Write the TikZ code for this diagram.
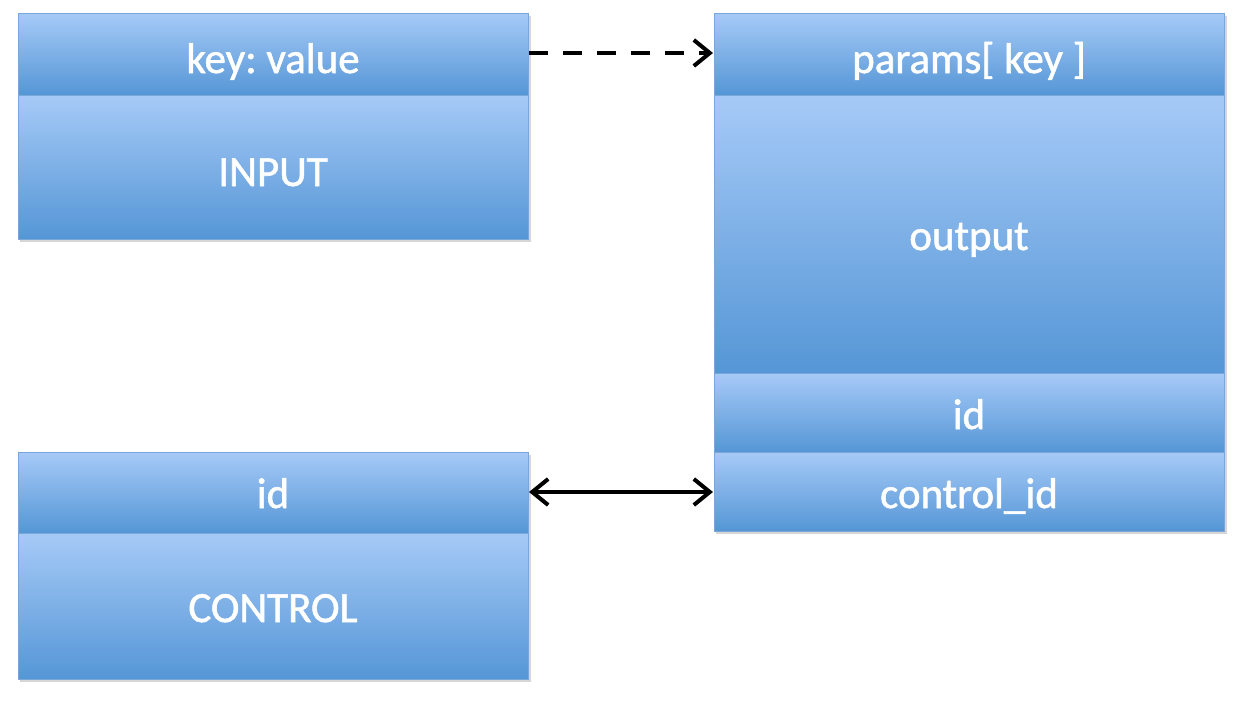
\documentclass[tikz,border=0pt]{standalone}
\usepackage{fontspec}
\setmainfont{Carlito}
\newfontfamily\boxfont[FakeBold=1.3]{Carlito}
\usetikzlibrary{arrows.meta}
\definecolor{boxtop}{HTML}{A6CAF7}
\definecolor{boxbot}{HTML}{5596D6}
\definecolor{boxline}{HTML}{7AA6DA}
\tikzset{
  sect/.style={draw=boxline, line width=1pt, top color=boxtop, bottom color=boxbot},
  lbl/.style={text=white, font=\boxfont\frenchspacing\fontsize{43}{50}\selectfont, inner sep=0pt, anchor=base},
  shad/.style={fill=black, fill opacity=0.16, draw=none},
  conn/.style={line width=4pt, black}
}
\begin{document}
\begin{tikzpicture}[x=1pt,y=-1pt]
\useasboundingbox (0,0) rectangle (1240,702);
% shadows
\fill[shad] (20,16) rectangle (531,242);
\fill[shad] (716,16) rectangle (1227,534);
\fill[shad] (20,455) rectangle (531,682);
% INPUT table
\path[sect] (18,13) rectangle (528,95);
\path[sect] (18,95) rectangle (528,239);
\node[lbl] (kv) at (273,73) {key: value};
\node[lbl] (inp) at (273,186) {INPUT};
\coordinate (kvE) at (529,53);
% output table
\path[sect] (714,13) rectangle (1224,95);
\path[sect] (714,95) rectangle (1224,373);
\path[sect] (714,373) rectangle (1224,452);
\path[sect] (714,452) rectangle (1224,531);
\node[lbl] (pk) at (969,73) {params[ key ]};
\node[lbl] (out) at (969,250) {output};
\node[lbl] (oid) at (969,429) {id};
\node[lbl] (cid) at (969,508) {control\_id};
\coordinate (pkW) at (713,53);
\coordinate (cidW) at (713,492);
% CONTROL table
\path[sect] (18,452) rectangle (528,533);
\path[sect] (18,533) rectangle (528,679);
\node[lbl] (cidl) at (273,508) {id};
\node[lbl] (ctl) at (273,622) {CONTROL};
\coordinate (idE) at (529,492);
% connectors
\draw[conn, dash pattern=on 19pt off 15pt, -{Straight Barb[length=16pt, width=26pt, line width=4pt]}] (kvE) -- (pkW);
\draw[conn, {Straight Barb[length=16pt, width=26pt, line width=4pt]}-{Straight Barb[length=16pt, width=26pt, line width=4pt]}] (idE) -- (cidW);
\end{tikzpicture}
\end{document}
